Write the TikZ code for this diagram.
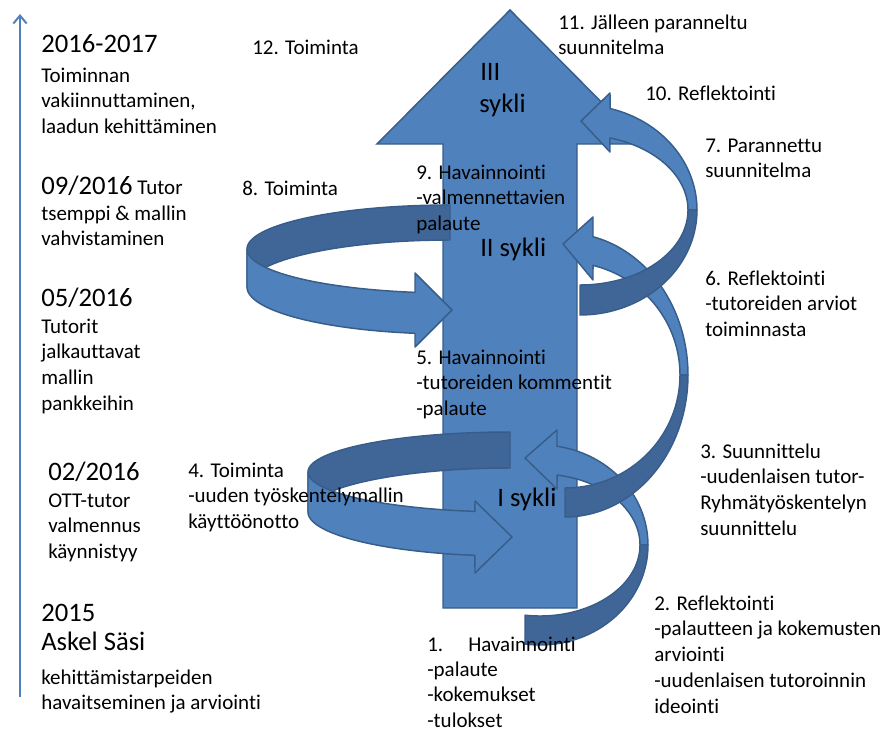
\documentclass[tikz,border=0pt]{standalone}
\usepackage{fontspec}
\setmainfont[Ligatures={NoCommon}]{Carlito}
\usetikzlibrary{arrows.meta}
\definecolor{mainblue}{RGB}{79,129,189}
\definecolor{edgeblue}{RGB}{56,93,138}
\definecolor{darkblue}{RGB}{63,102,151}
\newcommand{\mlines}[1]{\begin{tabular}[t]{@{}l@{}}#1\end{tabular}}
\begin{document}
\begin{tikzpicture}[x=0.75pt,y=-0.75pt,
  bandlight/.style={fill=mainblue, draw=edgeblue, line width=1.1pt, line join=round},
  banddark/.style={fill=darkblue, draw=edgeblue, line width=1.1pt, line join=round},
  bigarrow/.style={fill=mainblue, draw=edgeblue, line width=1.1pt, line join=miter},
  txt/.style={anchor=base west, inner sep=0pt, font=\fontsize{15.75}{19.4}\selectfont},
  tighttxt/.style={anchor=base west, inner sep=0pt, font=\fontsize{15.75}{19}\selectfont},
  bigtxt/.style={anchor=base west, inner sep=0pt, font=\fontsize{20}{24}\selectfont},
  timeline/.style={draw=mainblue, line width=1.5pt, -{Straight Barb[length=6pt,width=10pt]}}
]
\useasboundingbox (0,0) rectangle (889,732);

% timeline
\coordinate (tl0) at (20,697);
\coordinate (tl1) at (20,14);
\draw[timeline] (tl0) -- (tl1);

% main arrow
\draw[bigarrow] (443,608) -- (443,144) -- (377,144) -- (510,10) -- (643,144) -- (577,144) -- (577,608) -- cycle;

% arrow 4 (lower left ribbon)
\draw[banddark] plot[domain=-90:-180,samples=40,variable=\t] ({510+202*cos(\t)},{472+40*sin(\t)})
  -- plot[domain=-180:-90,samples=40,variable=\t] ({510+202*cos(\t)},{512+44*sin(\t)}) -- cycle;
\draw[bandlight] plot[domain=180:100,samples=40,variable=\t] ({510+202*cos(\t)},{472+40*sin(\t)})
  -- (475,501) -- (512,537) -- (475,573)
  -- plot[domain=100:180,samples=40,variable=\t] ({510+202*cos(\t)},{512+44*sin(\t)}) -- cycle;

% arrow 8 (upper left ribbon)
\draw[banddark] plot[domain=-90:-180,samples=40,variable=\t] ({450+203*cos(\t)},{249+44*sin(\t)})
  -- plot[domain=-180:-90,samples=40,variable=\t] ({450+203*cos(\t)},{287+47*sin(\t)}) -- cycle;
\draw[bandlight] plot[domain=180:99.93,samples=40,variable=\t] ({450+203*cos(\t)},{249+44*sin(\t)})
  -- (415,273) -- (452,310) -- (415,347)
  -- plot[domain=99.93:180,samples=40,variable=\t] ({450+203*cos(\t)},{287+47*sin(\t)}) -- cycle;

% arrow 1 (lower right)
\draw[bandlight] plot[domain=-80.94:0,samples=40,variable=\t] ({540+108*cos(\t)},{545+100*sin(\t)})
  -- plot[domain=0:-80.2,samples=40,variable=\t] ({540+100*cos(\t)},{545+71*sin(\t)})
  -- (557,489) -- (525,458) -- (557,430) -- cycle;
\draw[banddark] plot[domain=0:98,samples=40,variable=\t] ({540+108*cos(\t)},{545+100*sin(\t)})
  -- plot[domain=98.6:0,samples=40,variable=\t] ({540+100*cos(\t)},{545+71*sin(\t)}) -- cycle;

% arrow 2 (middle right)
\draw[bandlight] plot[domain=-76.84:0,samples=40,variable=\t] ({565+123*cos(\t)},{375+142*sin(\t)})
  -- plot[domain=0:-75.9,samples=40,variable=\t] ({565+115*cos(\t)},{375+113*sin(\t)})
  -- (593,280) -- (563,244) -- (593,217) -- cycle;
\draw[banddark] plot[domain=0:90,samples=40,variable=\t] ({565+123*cos(\t)},{375+142*sin(\t)})
  -- plot[domain=90:0,samples=40,variable=\t] ({565+115*cos(\t)},{375+113*sin(\t)}) -- cycle;

% arrow 3 (upper right)
\draw[bandlight] plot[domain=-75.1:0,samples=40,variable=\t] ({580+117*cos(\t)},{210+105*sin(\t)})
  -- plot[domain=0:-73.9,samples=40,variable=\t] ({580+108*cos(\t)},{210+75*sin(\t)})
  -- (610,152) -- (581,121) -- (610,93) -- cycle;
\draw[banddark] plot[domain=0:90,samples=40,variable=\t] ({580+117*cos(\t)},{210+105*sin(\t)})
  -- plot[domain=90:0,samples=40,variable=\t] ({580+108*cos(\t)},{210+75*sin(\t)}) -- cycle;

% cycle labels
\node[bigtxt] (s3a) at (480,80) {III};
\node[bigtxt] (s3b) at (479,112) {sykli};
\node[bigtxt] (s2) at (480,256) {II sykli};
\node[bigtxt] (s1) at (497,506) {I sykli};

% left column
\node[bigtxt] (y1) at (41,52) {2016-2017};
\node[txt] (y1t) at (41,82) {\mlines{Toiminnan\\vakiinnuttaminen,\\laadun kehittäminen}};
\node[txt] (y2) at (41,194) {{\fontsize{20}{24}\selectfont 09/2016} Tutor};
\node[txt] (y2t) at (41,220) {\mlines{tsemppi \& mallin\\vahvistaminen}};
\node[bigtxt] (y3) at (41,306) {05/2016};
\node[txt] (y3t) at (41,333) {\mlines{Tutorit\\jalkauttavat\\mallin\\pankkeihin}};
\node[bigtxt] (y4) at (48,480) {02/2016};
\node[txt] (y4t) at (48,507) {\mlines{OTT-tutor\\valmennus\\käynnistyy}};
\node[bigtxt] (y5) at (41,621) {2015};
\node[bigtxt] (y5b) at (41,650) {Askel Säsi};
\node[txt] (y5t) at (41,684) {\mlines{kehittämistarpeiden\\havaitseminen ja arviointi}};

% step labels
\node[txt] (t12) at (252,54) {12. Toiminta};
\node[txt] (t11) at (558,29) {\mlines{11. Jälleen paranneltu\\suunnitelma}};
\node[txt] (t10) at (645,100) {10. Reflektointi};
\node[txt] (t7) at (705,152) {\mlines{7. Parannettu\\suunnitelma}};
\node[txt] (t8) at (242,195) {8. Toiminta};
\node[txt] (t9) at (416,179) {\mlines{9. Havainnointi\\-valmennettavien\\palaute}};
\node[txt] (t6) at (705,285) {\mlines{6. Reflektointi\\-tutoreiden arviot\\toiminnasta}};
\node[txt] (t5) at (416,364) {\mlines{5. Havainnointi\\-tutoreiden kommentit\\-palaute}};
\node[txt] (t3) at (700,458) {\mlines{3. Suunnittelu\\-uudenlaisen tutor-\\Ryhmätyöskentelyn\\suunnittelu}};
\node[txt] (t4) at (188,477) {\mlines{4. Toiminta\\-uuden työskentelymallin\\käyttöönotto}};
\node[txt] (t2) at (654,610) {\mlines{2. Reflektointi\\-palautteen ja kokemusten\\arviointi\\-uudenlaisen tutoroinnin\\ideointi}};
\node[tighttxt] (t1) at (427,651) {\mlines{\makebox[30.75pt][l]{1.}Havainnointi\\-palaute\\-kokemukset\\-tulokset}};
\end{tikzpicture}
\end{document}
